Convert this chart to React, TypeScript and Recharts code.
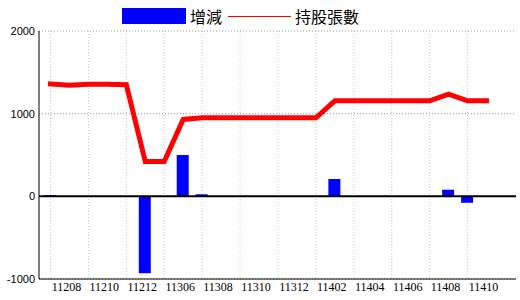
import {
  Bar,
  CartesianGrid,
  ComposedChart,
  Line,
  ReferenceLine,
  XAxis,
  YAxis,
} from "recharts";

// ROC year + month
const months = [
  "11207", "11208", "11209", "11210", "11211", "11212",
  "11305", "11306", "11307", "11308", "11309", "11310",
  "11311", "11312", "11401", "11402", "11403", "11404",
  "11405", "11406", "11407", "11408", "11409", "11410",
];
const change = [
  15, 0, 0, 0, 0, -930, 0, 500, 25, 0, 0, 0,
  0, 0, 0, 210, 0, 0, 0, 0, 0, 80, -78, 0,
];
const holding = [
  1360, 1345, 1355, 1355, 1350, 420, 420, 930, 950, 950, 950, 950,
  950, 950, 950, 1155, 1155, 1155, 1155, 1155, 1155, 1235, 1155, 1155,
];
const yTicks = [-1000, 0, 1000, 2000];

const labelTicks = months.filter((_, i) => i % 2 === 1);
const gridTicks = months.filter((_, i) => i % 2 === 0);

const data = months.map((m, i) => ({
  month: m,
  change: change[i],
  holding: holding[i],
}));

const BLUE = "#0000ff";
const RED = "#ff0000";
const xPadding = { left: 2, right: 20 };
const yDomain: [number, number] = [-1000, 2000];

// vertical grid on the even months, between the labelled ones
const gridX = ({ xAxis, offset }: any) => {
  const scale = xAxis?.scale;
  let bw = 0;
  if (scale && typeof scale.bandwidth === "function") bw = scale.bandwidth();
  const pos = (m: string, i: number) => {
    if (typeof scale === "function") return scale(m) + bw / 2;
    if (scale && typeof scale.map === "function") return scale.map(m) + bw / 2;
    const band = (offset.width - xPadding.left - xPadding.right) / months.length;
    return offset.left + xPadding.left + band * (i + 0.5);
  };
  return months
    .map((m, i) => (gridTicks.includes(m) ? pos(m, i) : NaN))
    .filter((v) => Number.isFinite(v));
};

export default function App() {
  return (
    <div style={{ position: "absolute", left: 0, top: 0, width: 520, height: 300, background: "#fff" }}>
      <div
        style={{
          position: "absolute",
          left: 122,
          top: 8,
          display: "flex",
          alignItems: "center",
          fontFamily: "'Noto Sans CJK TC', sans-serif",
          fontSize: 16,
          lineHeight: "16px",
          color: "#000",
          whiteSpace: "nowrap",
        }}
      >
        <span style={{ display: "inline-block", width: 64, height: 16, background: BLUE }} />
        <span style={{ marginLeft: 4 }}>增減</span>
        <span style={{ display: "inline-block", width: 63, height: 1, background: RED, marginLeft: 6 }} />
        <span style={{ marginLeft: 4 }}>持股張數</span>
      </div>
      <ComposedChart
        width={520}
        height={300}
        data={data}
        margin={{ top: 31, right: 4, left: 0, bottom: 0 }}
      >
        <CartesianGrid
          horizontal={false}
          verticalCoordinatesGenerator={gridX}
          stroke="#b4cad8"
          strokeDasharray="1 2"
        />
        <CartesianGrid vertical={false} stroke="#999999" strokeDasharray="1 2" />
        <XAxis
          dataKey="month"
          ticks={labelTicks}
          interval={0}
          padding={xPadding}
          height={21}
          tickLine={false}
          tickSize={0}
          tickMargin={3}
          axisLine={{ stroke: "#000" }}
          tick={{ fill: "#000", fontSize: 12, fontFamily: "'Liberation Serif', serif", dx: -3 }}
        />
        <XAxis
          xAxisId="top"
          orientation="top"
          dataKey="month"
          padding={xPadding}
          height={0}
          tick={false}
          tickLine={false}
          axisLine={{ stroke: "#000" }}
        />
        <YAxis
          domain={yDomain}
          ticks={yTicks}
          interval={0}
          width={39}
          tickLine={false}
          tickSize={2}
          tickMargin={2}
          axisLine={{ stroke: "#000" }}
          tick={{ fill: "#000", fontSize: 11, fontFamily: "'Liberation Sans', Arial, sans-serif" }}
        />
        <YAxis
          yAxisId="r"
          orientation="right"
          domain={yDomain}
          width={0}
          tick={false}
          tickLine={false}
          axisLine={{ stroke: "#000" }}
        />
        <Bar dataKey="change" fill={BLUE} barSize={12} isAnimationActive={false} />
        <Line
          type="linear"
          dataKey="holding"
          stroke={RED}
          strokeWidth={5}
          strokeLinecap="square"
          dot={false}
          activeDot={false}
          isAnimationActive={false}
        />
        <ReferenceLine y={0} stroke="#000" strokeWidth={2} />
      </ComposedChart>
    </div>
  );
}
